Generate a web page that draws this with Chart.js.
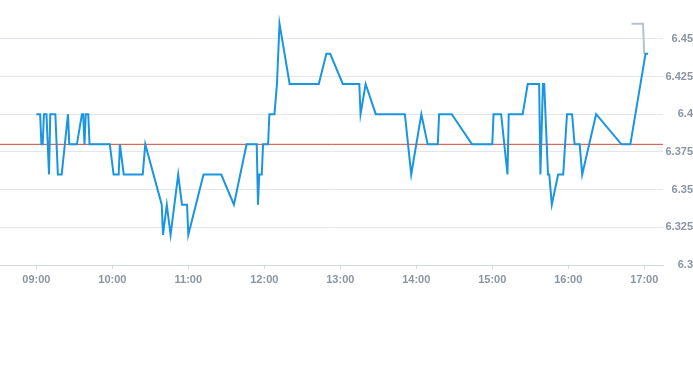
<!DOCTYPE html>
<html>
<head>
<meta charset="utf-8">
<script src="https://cdn.jsdelivr.net/npm/chart.js@4/dist/chart.umd.min.js"></script>
<style>
  html, body { margin: 0; padding: 0; background: #ffffff; }
  #wrap { width: 693px; height: 288px; position: relative; }
</style>
</head>
<body>
<div id="wrap"><canvas id="c"></canvas></div>
<script>
// ---- data ----
const times = [
  '09:00','09:03','09:04','09:05','09:06','09:08','09:10','09:11','09:15','09:17',
  '09:20','09:25','09:26','09:32','09:36','09:37','09:38','09:39','09:41','09:42',
  '09:58','10:01','10:05','10:06','10:09','10:24','10:26','10:39','10:40','10:43',
  '10:46','10:52','10:55','10:59','11:00','11:12','11:26','11:36','11:46','11:54',
  '11:55','11:56','11:58','11:59','12:03','12:04','12:08','12:10','12:12','12:20',
  '12:43','12:49','12:52','13:02','13:15','13:16','13:20','13:28','13:51','13:56',
  '14:04','14:09','14:17','14:18','14:28','14:44','15:00','15:01','15:07','15:12',
  '15:13','15:24','15:28','15:37','15:38','15:40','15:41','15:44','15:45','15:47',
  '15:52','15:56','15:59','16:03','16:05','16:09','16:11','16:22','16:42','16:49',
  '17:01','17:03'
];
const prices = [
  6.40,6.40,6.38,6.38,6.40,6.40,6.36,6.40,6.40,6.36,
  6.36,6.40,6.38,6.38,6.40,6.40,6.38,6.40,6.40,6.38,
  6.38,6.36,6.36,6.38,6.36,6.36,6.38,6.34,6.32,6.34,
  6.32,6.36,6.34,6.34,6.32,6.36,6.36,6.34,6.38,6.38,
  6.34,6.36,6.36,6.38,6.38,6.40,6.40,6.42,6.46,6.42,
  6.42,6.44,6.44,6.42,6.42,6.40,6.42,6.40,6.40,6.36,
  6.40,6.38,6.38,6.40,6.40,6.38,6.38,6.40,6.40,6.36,
  6.40,6.40,6.42,6.42,6.36,6.42,6.42,6.36,6.36,6.34,
  6.36,6.36,6.40,6.40,6.38,6.38,6.36,6.40,6.38,6.38,
  6.44,6.44
];
const greyTimes = ['16:50','16:59','17:00'];
const greyPrices = [6.46, 6.46, 6.44];
const refPrice = 6.38;
const xTickLabels = ['09:00','10:00','11:00','12:00','13:00','14:00','15:00','16:00','17:00'];
const yTickValues = [6.3, 6.325, 6.35, 6.375, 6.4, 6.425, 6.45];

// ---- helpers ----
function toMin(s) { const p = s.split(':'); return (+p[0]) * 60 + (+p[1]); }
const X_MIN = 511.3, X_MAX = 1034.8;
const mainData = times.map((t, i) => ({ x: toMin(t), y: prices[i] }));
const greyData = greyTimes.map((t, i) => ({ x: toMin(t), y: greyPrices[i] }));
const refData = [{ x: X_MIN, y: refPrice }, { x: X_MAX, y: refPrice }];

const tickFont = { family: "'Liberation Sans', Arial, sans-serif", size: 11, weight: 'bold' };
const tickColor = '#8a94a3';

new Chart(document.getElementById('c'), {
  type: 'line',
  data: {
    datasets: [
      { data: mainData, borderColor: '#1a95e0', borderWidth: 2, pointRadius: 0, tension: 0, fill: false, order: 1 },
      { data: greyData, borderColor: '#b8c1cc', borderWidth: 2, pointRadius: 0, tension: 0, fill: false, order: 2 },
      { data: refData, borderColor: '#d2463c', borderWidth: 1, pointRadius: 0, tension: 0, fill: false, order: 3 }
    ]
  },
  options: {
    responsive: true,
    maintainAspectRatio: false,
    animation: false,
    events: [],
    layout: { padding: { top: 8, left: 0, right: 0, bottom: 0 } },
    plugins: { legend: { display: false }, tooltip: { enabled: false } },
    scales: {
      x: {
        type: 'linear',
        min: X_MIN,
        max: X_MAX,
        afterBuildTicks: (s) => { s.ticks = xTickLabels.map(l => ({ value: toMin(l) })); },
        afterFit: (s) => { s.height = 23; },
        ticks: {
          callback: (v) => { const h = Math.floor(v / 60), m = v % 60; return String(h).padStart(2, '0') + ':' + String(m).padStart(2, '0'); },
          color: tickColor, font: tickFont, padding: 4, maxRotation: 0, autoSkip: false
        },
        grid: { drawOnChartArea: false, drawTicks: true, tickLength: 4, color: '#d3d8de' },
        border: { display: true, color: '#d3d8de', width: 1 }
      },
      y: {
        position: 'right',
        min: 6.3,
        max: 6.47,
        afterBuildTicks: (s) => { s.ticks = yTickValues.map(v => ({ value: v })); },
        afterFit: (s) => { s.width = 30; },
        ticks: {
          callback: (v) => String(+v.toFixed(3)),
          color: tickColor, font: tickFont, padding: 2, crossAlign: 'far'
        },
        grid: { drawTicks: false, color: '#e3e6ea' },
        border: { display: false }
      }
    }
  }
});
</script>
</body>
</html>
